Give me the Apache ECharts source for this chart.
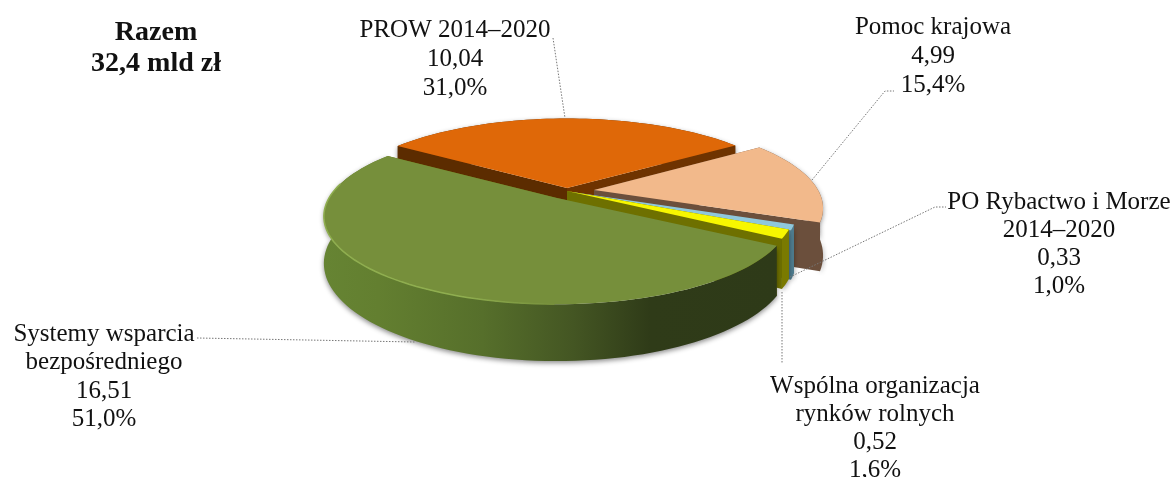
<!DOCTYPE html>
<html><head><meta charset="utf-8">
<style>html,body{margin:0;padding:0;background:#fff}#c{width:1170px;height:477px}</style>
<script src="https://cdn.jsdelivr.net/npm/echarts@6/dist/echarts.min.js"></script>
</head><body><div id="c"></div>
<script>
const categories = [['PROW 2014–2020'],['Pomoc krajowa'],['PO Rybactwo i Morze','2014–2020'],['Wspólna organizacja','rynków rolnych'],['Systemy wsparcia','bezpośredniego']];
const values = [10.04,4.99,0.33,0.52,16.51];
const valueLabels = ['10,04','4,99','0,33','0,52','16,51'];
const percentLabels = ['31,0%','15,4%','1,0%','1,6%','51,0%'];
const totalLines = ['Razem','32,4 mld zł'];

// Layout and styling (pixels)
const FONT = '"Liberation Serif", serif';
const START = -56, A = 84, K = 0.209, DEPTH = 45;
const radii = [228,224,220,223,228];
const tips = [[567,188],[594,190],[572,192],[567,191],[557,198]];
const labelCx = [455,933,1059,875,104];
const labelTop = [30,27,202,386,334];
const lineH = [29,29,28,28,28.5];
const leaders = [
  [[553,38],[565,118]],
  [[812,180],[885,91],[894,91]],
  [[790,277],[935,207],[946,207]],
  [[782,292],[782,364]],
  [[197,338],[415,342]]
];
const topColors = ['#df6808','#f2b98b','#8fc8dc','#f7f700','#768f3b'];
const faceStart = ['#5c2c00','#6b4f3c','#6b4f3c','#6e7000','#6e7000'];
const faceEnd = ['#6e3300','#6b4f3c','#4f7d90','#6e7000','#6e7000'];
const wallFills = [
  '#6e3300','#6b4f3c','#4f7d90','#7a7a00',
  {type:'linear',x:0,y:0,x2:1,y2:0,colorStops:[
    {offset:0,color:'#668433'},{offset:0.12,color:'#637f30'},{offset:0.35,color:'#566f2b'},
    {offset:0.55,color:'#445623'},{offset:0.72,color:'#2f3b18'},{offset:1,color:'#2e3a18'}]}
];

const total = values.reduce((a,b)=>a+b,0);
function project(i, deg, r, h){
  const t = deg*Math.PI/180, X = r*Math.sin(t), Y = -r*Math.cos(t), s = 1/(1-K*Y);
  return [tips[i][0]+radii[i]*X*s, tips[i][1]+A*Y*s+DEPTH*h*s];
}
function bounds(i){
  let a = START;
  for(let j=0;j<i;j++) a += values[j]/total*360;
  return [a, a+values[i]/total*360];
}
function arc(i,a0,a1,h){
  const pts=[], n=Math.max(6,Math.ceil(Math.abs(a1-a0)/2));
  for(let k=0;k<=n;k++) pts.push(project(i,a0+(a1-a0)*k/n,1,h));
  return pts;
}
function renderSlice(params, api){
  const i = params.dataIndex, b = bounds(Math.round(api.value(0)));
  const top = [project(i,0,0,0)].concat(arc(i,b[0],b[1],0));
  const wall = arc(i,b[0],b[1],0).concat(arc(i,b[1],b[0],1));
  const face = (deg,color)=>({type:'polygon',shape:{points:[project(i,0,0,0),project(i,deg,1,0),project(i,deg,1,1),project(i,0,0,1)]},style:{fill:color}});
  const startFace = face(b[0],faceStart[i]), endFace = face(b[1],faceEnd[i]);
  const startFront = Math.sin(b[0]*Math.PI/180) < 0, endFront = Math.sin(b[1]*Math.PI/180) > 0;
  const children = [];
  if(!startFront) children.push(startFace);
  if(!endFront) children.push(endFace);
  children.push({type:'polygon',shape:{points:wall},style:{fill:wallFills[i],shadowBlur:5,shadowColor:'rgba(0,0,0,0.45)',shadowOffsetY:2}});
  if(startFront) children.push(startFace);
  if(endFront) children.push(endFace);
  children.push({type:'polygon',shape:{points:top},style:{fill:topColors[i]}});
  if(i===4){
    children.push({type:'polyline',shape:{points:arc(i,280,b[0]+60,0)},style:{fill:'none',lineWidth:1.5,
      stroke:{type:'linear',x:0,y:0,x2:1,y2:0,colorStops:[{offset:0,color:'#8fae4f'},{offset:0.6,color:'#8fae4f'},{offset:1,color:'#768f3b'}]}}});
  }
  return {type:'group',children};
}
function renderLabel(params, api){
  const i = params.dataIndex;
  const lines = categories[i].concat([valueLabels[i],percentLabels[i]]);
  const children = lines.map((t,k)=>({type:'text',x:labelCx[i],y:labelTop[i]+k*lineH[i],
    style:{text:t,font:'25px '+FONT,fill:'#111',textAlign:'center',textVerticalAlign:'middle'}}));
  children.push({type:'polyline',shape:{points:leaders[i]},style:{fill:'none',stroke:'#777',lineWidth:1,lineDash:[1.5,1.5]}});
  return {type:'group',children};
}
const chart = echarts.init(document.getElementById('c'),null,{renderer:'canvas'});
chart.setOption({
  animation:false,
  backgroundColor:'#fff',
  graphic:[{type:'group',children:totalLines.map((t,k)=>({type:'text',x:156,y:33+k*31,
    style:{text:t,font:'bold 28px '+FONT,fill:'#111',textAlign:'center',textVerticalAlign:'middle'}}))}],
  series:[
    {type:'custom',coordinateSystem:'none',silent:true,z:2,renderItem:renderSlice,data:values.map((v,i)=>[i,v])},
    {type:'custom',coordinateSystem:'none',silent:true,z:3,renderItem:renderLabel,data:values.map((v,i)=>[i,v])}
  ]
});
</script></body></html>
